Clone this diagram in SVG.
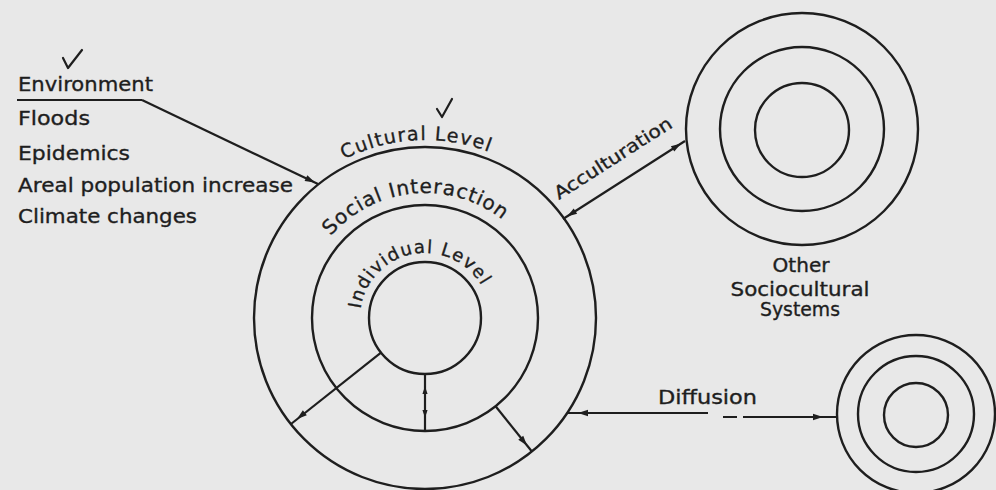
<svg xmlns="http://www.w3.org/2000/svg" width="996" height="490" viewBox="0 0 996 490">
<defs>
<style>
.ring{fill:none;stroke:#1e1e1e;stroke-width:2.4}
.ln{fill:none;stroke:#1e1e1e;stroke-width:2.2}
.t{font-family:"DejaVu Sans","Liberation Sans",sans-serif;fill:#1e1e1e;stroke:#1e1e1e;stroke-width:0.35}
.tip{fill:#1e1e1e}
.chk{fill:none;stroke:#1e1e1e;stroke-width:2.2;stroke-linecap:round;stroke-linejoin:round}
</style>
<path id="tip" d="M0,0 L-10,-3.2 L-10,3.2 z"/>
<path id="arcCult" d="M344.2,159.4 A178,178 0 0 1 488.8,151.8"/>
<path id="arcSoc" d="M330.7,236 A125,125 0 0 1 502,219.5"/>
<path id="arcInd" d="M360.6,309 A65,65 0 0 1 481.3,285.5"/>
</defs>
<rect x="0" y="0" width="996" height="490" fill="#e8e8e8"/>

<g id="environment">
<path class="chk" d="M63,58 L68,68 L82,50"/>
<text class="t" x="18" y="91" font-size="20" textLength="135" lengthAdjust="spacingAndGlyphs">Environment</text>
<line class="ln" x1="17" y1="100" x2="142" y2="100"/>
<text class="t" x="18" y="125" font-size="20" textLength="72" lengthAdjust="spacingAndGlyphs">Floods</text>
<text class="t" x="18" y="160" font-size="20" textLength="112" lengthAdjust="spacingAndGlyphs">Epidemics</text>
<text class="t" x="18" y="192" font-size="20" textLength="275" lengthAdjust="spacingAndGlyphs">Areal population increase</text>
<text class="t" x="18" y="223" font-size="20" textLength="179" lengthAdjust="spacingAndGlyphs">Climate changes</text>
</g>

<g id="main-system">
<circle class="ring" cx="425" cy="318" r="171"/>
<circle class="ring" cx="425" cy="318" r="113"/>
<circle class="ring" cx="425" cy="318" r="56"/>
<text class="t" font-size="19"><textPath href="#arcCult" textLength="149" lengthAdjust="spacing">Cultural Level</textPath></text>
<path class="chk" d="M437,109 L442,117 L452,99"/>
<text class="t" font-size="20"><textPath href="#arcSoc" textLength="190" lengthAdjust="spacing">Social Interaction</textPath></text>
<text class="t" font-size="18"><textPath href="#arcInd" textLength="161" lengthAdjust="spacing">Individual Level</textPath></text>
</g>

<g id="other-systems">
<circle class="ring" cx="802" cy="129" r="116"/>
<circle class="ring" cx="802" cy="129" r="82"/>
<circle class="ring" cx="802" cy="130" r="47"/>
<text class="t" x="801" y="272" font-size="19" text-anchor="middle" textLength="57" lengthAdjust="spacingAndGlyphs">Other</text>
<text class="t" x="800" y="296" font-size="19" text-anchor="middle" textLength="139" lengthAdjust="spacingAndGlyphs">Sociocultural</text>
<text class="t" x="800" y="316" font-size="19" text-anchor="middle" textLength="80" lengthAdjust="spacingAndGlyphs">Systems</text>
</g>

<g id="diffusing-system">
<circle class="ring" cx="916" cy="414" r="79"/>
<circle class="ring" cx="916" cy="414" r="58"/>
<circle class="ring" cx="916" cy="415" r="32"/>
</g>

<g id="connectors">
<path class="ln" d="M142,100 L318,184"/>
<use class="tip" href="#tip" transform="translate(315,182.5) rotate(25.5)"/>

<path class="ln" d="M563,219 L685,141"/>
<use class="tip" href="#tip" transform="translate(567,216.5) rotate(147.4)"/>
<use class="tip" href="#tip" transform="translate(681,143.5) rotate(-32.6)"/>
<text class="t" font-size="18" transform="translate(559,200) rotate(-32.6)" textLength="136" lengthAdjust="spacingAndGlyphs">Acculturation</text>

<path class="ln" d="M381,352.6 L291,424"/>
<use class="tip" href="#tip" transform="translate(297,419) rotate(141.6)"/>
<path class="ln" d="M425,374 L425,431"/>
<use class="tip" href="#tip" transform="translate(425,386) rotate(-90) scale(0.8)"/>
<use class="tip" href="#tip" transform="translate(425,418) rotate(90) scale(0.8)"/>
<path class="ln" d="M495.6,406.2 L531.9,451.5"/>
<use class="tip" href="#tip" transform="translate(527,445.5) rotate(51.3)"/>

<path class="ln" d="M567,413 L708,413"/>
<use class="tip" href="#tip" transform="translate(578,413) rotate(180)"/>
<path class="ln" d="M723,417 L737,417 M743,417 L837,417"/>
<use class="tip" href="#tip" transform="translate(823,417)"/>
<text class="t" x="658" y="404" font-size="19" textLength="99" lengthAdjust="spacingAndGlyphs">Diffusion</text>
</g>
</svg>
